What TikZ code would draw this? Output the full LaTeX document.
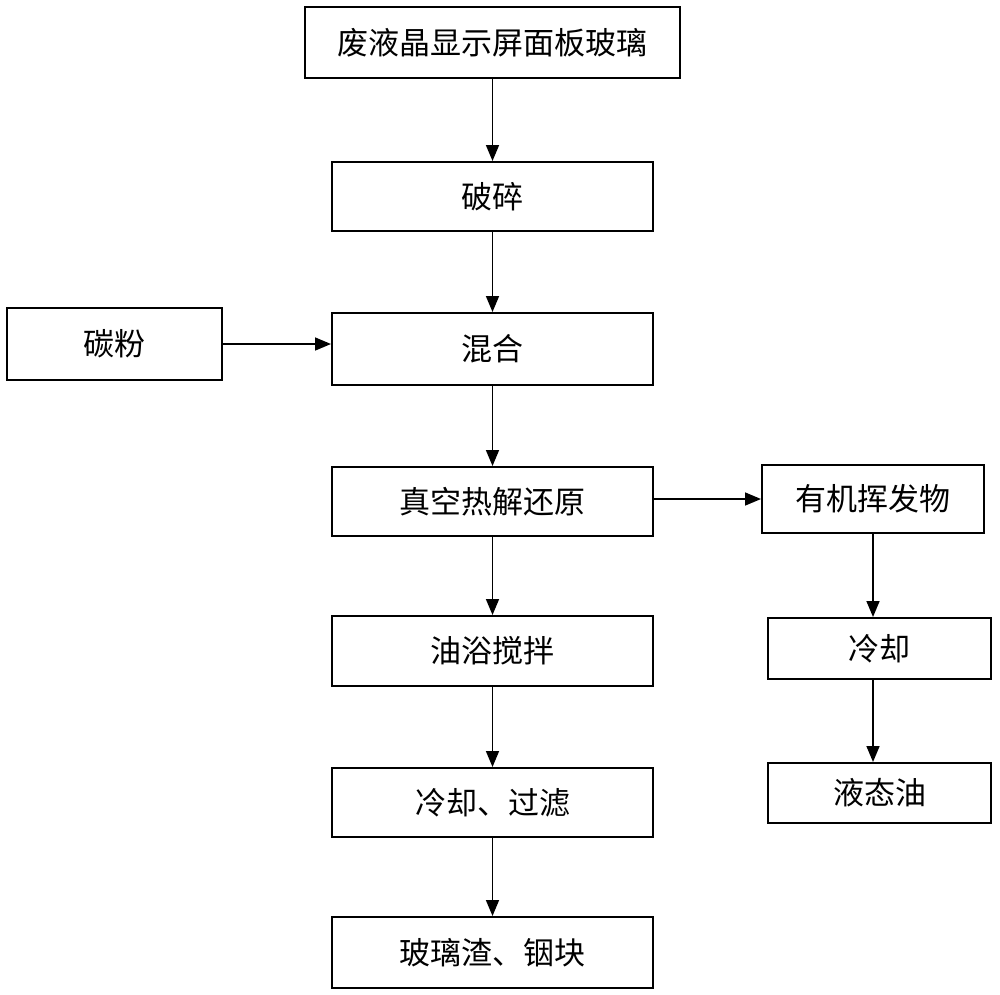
\documentclass[tikz,border=0pt]{standalone}
\usepackage{fontspec}
\newfontfamily\cjk{Noto Sans CJK SC}
\usetikzlibrary{arrows.meta}
\begin{document}
\begin{tikzpicture}[x=1pt,y=-1pt,
  box/.style={draw, line width=2pt, inner sep=0pt, font=\cjk\fontsize{31}{33}\selectfont},
  arr/.style={line width=1.6pt, -{Triangle[length=16pt,width=13pt]}}]
\useasboundingbox[fill=white] (0,0) rectangle (1000,994);
\node[box, minimum width=375pt, minimum height=71pt] (glass) at (492.5,42.5) {废液晶显示屏面板玻璃};
\node[box, minimum width=321pt, minimum height=69pt] (crush) at (492.5,196.5) {破碎};
\node[box, minimum width=215pt, minimum height=72pt] (carbon) at (114.5,344) {碳粉};
\node[box, minimum width=321pt, minimum height=72pt] (mix) at (492.5,349) {混合};
\node[box, minimum width=321pt, minimum height=69pt] (vac) at (492.5,501.5) {真空热解还原};
\node[box, minimum width=222pt, minimum height=68pt] (org) at (873,499) {有机挥发物};
\node[box, minimum width=321pt, minimum height=70pt] (oil) at (492.5,651) {油浴搅拌};
\node[box, minimum width=321pt, minimum height=69pt] (cf) at (492.5,802.5) {冷却、过滤};
\node[box, minimum width=321pt, minimum height=71pt] (slag) at (492.5,952.5) {玻璃渣、铟块};
\node[box, minimum width=223pt, minimum height=61pt] (cool) at (879.5,648.5) {冷却};
\node[box, minimum width=223pt, minimum height=60pt] (liq) at (879.5,793) {液态油};
\draw[arr] (glass) -- (crush);
\draw[arr] (crush) -- (mix);
\draw[arr] (carbon.east) -- (carbon.east -| mix.west);
\draw[arr] (mix) -- (vac);
\draw[arr] (org.west -| vac.east) -- (org.west);
\draw[arr] (vac) -- (oil);
\draw[arr] (oil) -- (cf);
\draw[arr] (cf) -- (slag);
\draw[arr] (org.south) -- (org.south |- cool.north);
\draw[arr] (cool.south -| org.south) -- (org.south |- liq.north);
\end{tikzpicture}
\end{document}
